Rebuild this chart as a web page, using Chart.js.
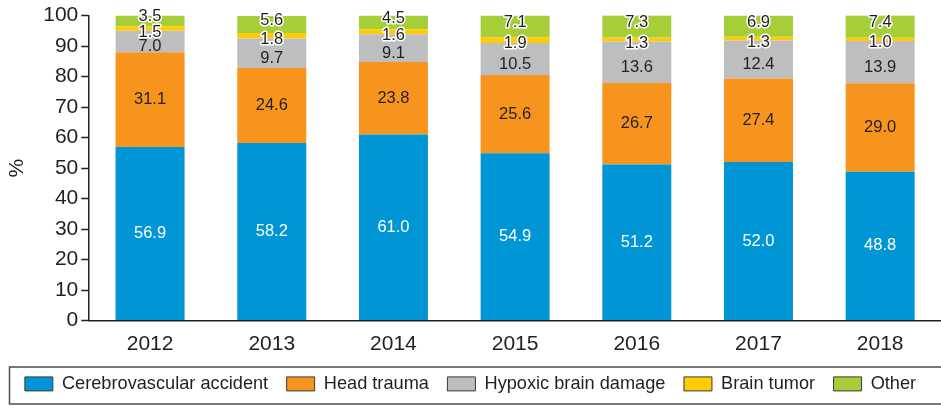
<!DOCTYPE html>
<html>
<head>
<meta charset="utf-8">
<script src="https://cdn.jsdelivr.net/npm/chart.js@4"></script>
<style>
    html, body { margin: 0; padding: 0; background: #fff; }
    #wrap { width: 941px; height: 406px; position: relative; }
</style>
</head>
<body>
<div id="wrap"><canvas id="chart"></canvas></div>
<script>
// Categories and series (percent of cases per year)
const years = ['2012', '2013', '2014', '2015', '2016', '2017', '2018'];
const cerebrovascular = [56.9, 58.2, 61.0, 54.9, 51.2, 52.0, 48.8];
const headTrauma = [31.1, 24.6, 23.8, 25.6, 26.7, 27.4, 29.0];
const hypoxic = [7.0, 9.7, 9.1, 10.5, 13.6, 12.4, 13.9];
const brainTumor = [1.5, 1.8, 1.6, 1.9, 1.3, 1.3, 1.0];
const other = [3.5, 5.6, 4.5, 7.1, 7.3, 6.9, 7.4];
const yTicks = [0, 10, 20, 30, 40, 50, 60, 70, 80, 90, 100];

const TEXT = '#231f20';
const FONT = '"Liberation Sans", Arial, sans-serif';

const colors = {
    cva: '#0096d6',
    trauma: '#f7941d',
    hypoxic: '#bcbec0',
    tumor: '#ffcb05',
    other: '#a6ce39'
};

// Draws the value inside each stacked segment
const segmentLabels = {
    id: 'segmentLabels',
    afterDatasetsDraw(chart) {
        const ctx = chart.ctx;
        ctx.save();
        ctx.font = '16.5px ' + FONT;
        ctx.textAlign = 'center';
        ctx.textBaseline = 'middle';
        ctx.lineJoin = 'round';
        const nudge = [0, 0, 5, 3.5, -4];
        chart.data.datasets.forEach((ds, i) => {
            const meta = chart.getDatasetMeta(i);
            meta.data.forEach((bar, j) => {
                const text = ds.data[j].toFixed(1);
                const y = (bar.y + bar.base) / 2 + nudge[i];
                if (i >= 3) {
                    ctx.strokeStyle = '#ffffff';
                    ctx.lineWidth = 3;
                    ctx.strokeText(text, bar.x, y);
                }
                ctx.fillStyle = i === 0 ? '#ffffff' : TEXT;
                ctx.fillText(text, bar.x, y);
            });
        });
        ctx.restore();
    }
};

// Frame around the legend
const legendFrame = {
    id: 'legendFrame',
    afterDraw(chart) {
        const ctx = chart.ctx;
        ctx.save();
        ctx.strokeStyle = '#4d4d4d';
        ctx.lineWidth = 1.5;
        ctx.strokeRect(9.5, 367, 940, 37);
        ctx.restore();
    }
};

function makeSet(label, data, color) {
    return {
        label: label,
        data: data,
        backgroundColor: color,
        borderWidth: 0,
        barPercentage: 0.567,
        categoryPercentage: 1
    };
}

new Chart(document.getElementById('chart'), {
    type: 'bar',
    data: {
        labels: years,
        datasets: [
            makeSet('Cerebrovascular accident', cerebrovascular, colors.cva),
            makeSet('Head trauma', headTrauma, colors.trauma),
            makeSet('Hypoxic brain damage', hypoxic, colors.hypoxic),
            makeSet('Brain tumor', brainTumor, colors.tumor),
            makeSet('Other', other, colors.other)
        ]
    },
    options: {
        responsive: true,
        maintainAspectRatio: false,
        animation: false,
        layout: {
            padding: { top: 11, left: 0, right: 0, bottom: 3 }
        },
        plugins: {
            tooltip: { enabled: false },
            legend: {
                position: 'bottom',
                labels: {
                    color: TEXT,
                    font: { family: FONT, size: 18.2 },
                    boxWidth: 28,
                    boxHeight: 14,
                    padding: 18.5,
                    generateLabels(chart) {
                        return chart.data.datasets.map((ds, i) => ({
                            text: ds.label,
                            fillStyle: ds.backgroundColor,
                            strokeStyle: '#3a3a3a',
                            lineWidth: 1,
                            fontColor: TEXT,
                            hidden: false,
                            datasetIndex: i
                        }));
                    }
                }
            }
        },
        scales: {
            x: {
                stacked: true,
                grid: { display: false, drawTicks: false },
                border: { color: TEXT, width: 1.5 },
                ticks: {
                    color: TEXT,
                    font: { family: FONT, size: 21 },
                    padding: 11.5
                },
                // pull the plot down closer to the legend
                afterFit(axis) {
                    axis.height -= 12.5;
                }
            },
            y: {
                stacked: true,
                min: 0,
                max: 100,
                afterBuildTicks(axis) {
                    axis.ticks = yTicks.map(v => ({ value: v }));
                },
                grid: {
                    drawOnChartArea: false,
                    drawTicks: true,
                    tickLength: 8,
                    tickWidth: 1.5,
                    color: TEXT
                },
                border: { color: TEXT, width: 1.5 },
                ticks: {
                    color: TEXT,
                    font: { family: FONT, size: 21 },
                    padding: 3,
                    autoSkip: false
                },
                title: {
                    display: true,
                    text: '%',
                    color: TEXT,
                    font: { family: FONT, size: 21 },
                    padding: { top: 5, bottom: 10 }
                }
            }
        }
    },
    plugins: [segmentLabels, legendFrame]
});
</script>
</body>
</html>
